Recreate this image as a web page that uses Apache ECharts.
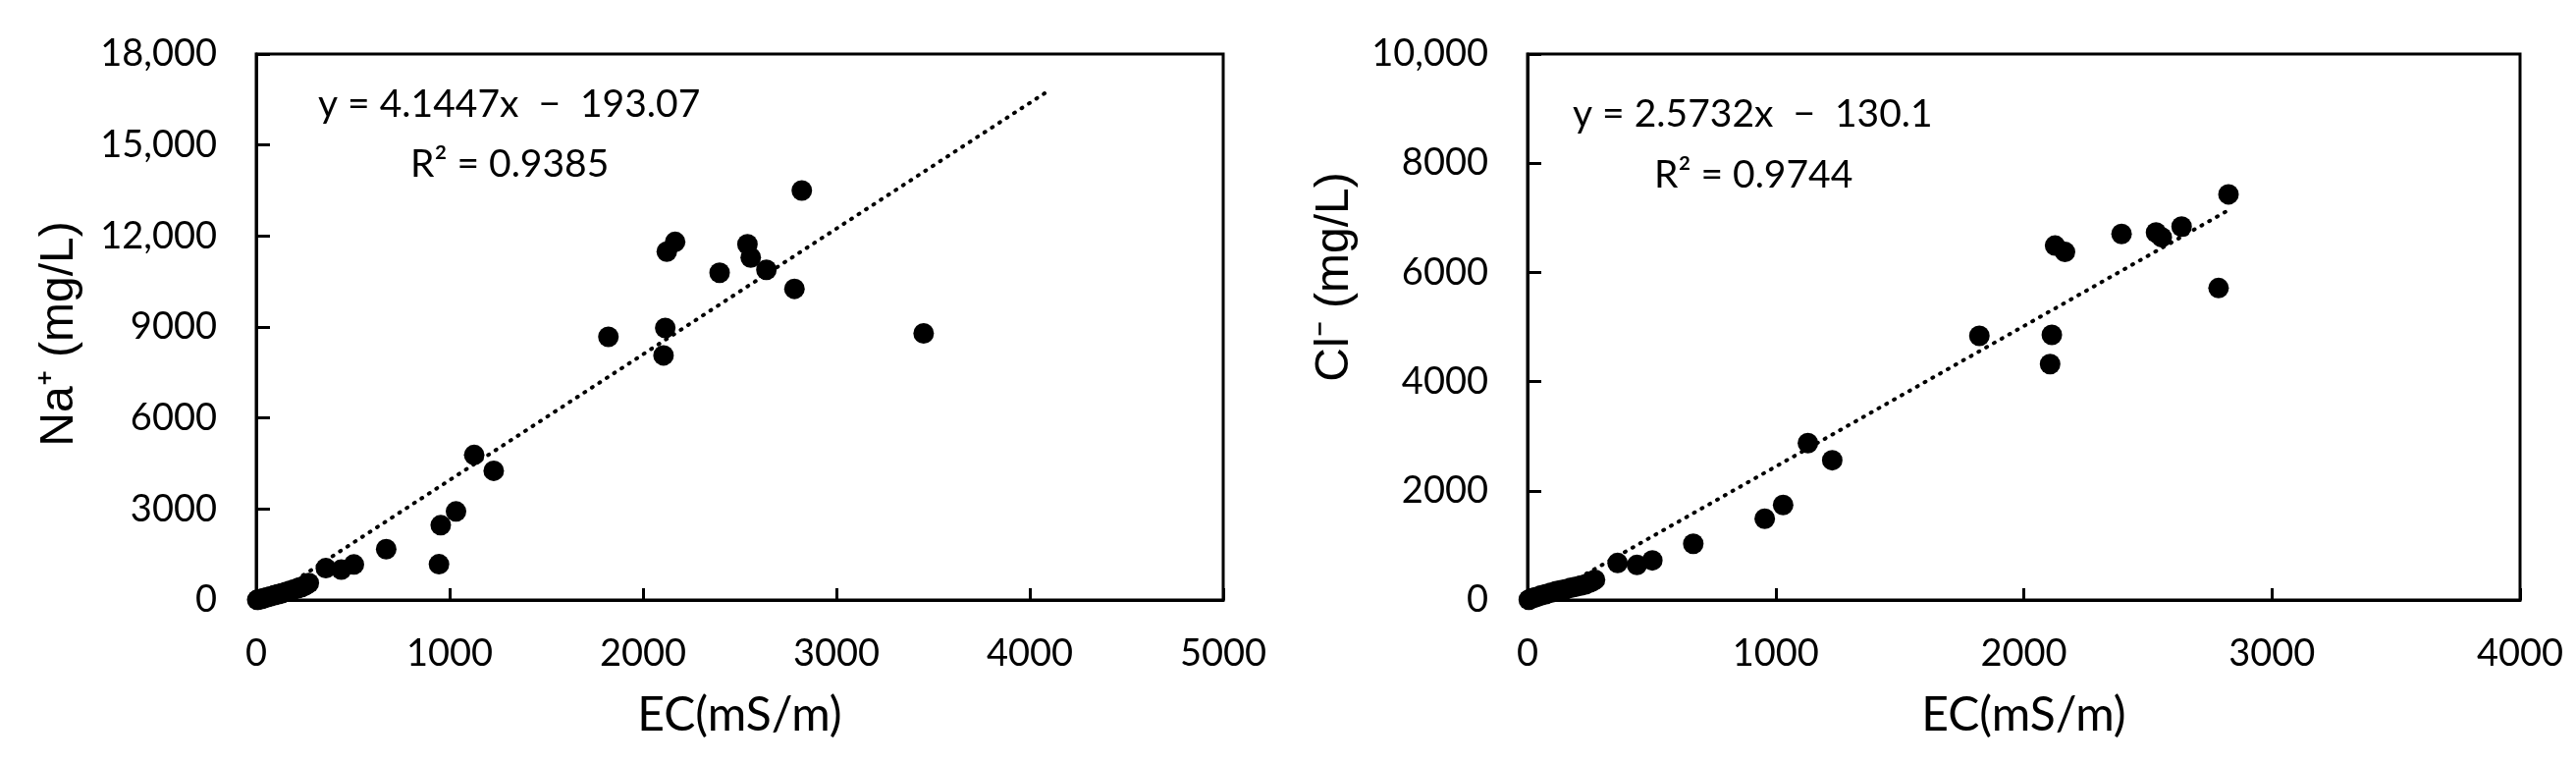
<!DOCTYPE html>
<html>
<head>
<meta charset="utf-8">
<title>EC vs Na+ / Cl-</title>
<script src="https://cdn.jsdelivr.net/npm/echarts@6/dist/echarts.min.js"></script>
<style>
  html, body { margin: 0; padding: 0; background: #fff; }
  #main { width: 2624px; height: 777px; }
</style>
</head>
<body>
<div id="main"></div>
<script>
// EC (mS/m) and Na+ (mg/L), left panel
const ecNa = [2821, 2166, 2123, 2540, 2557, 2396, 2638, 2783, 3451, 1821, 2115, 2106,
  1127, 1228, 1033, 954, 945, 672, 505, 440, 360,
  272, 262, 250, 235, 215, 195, 175, 155, 135, 115, 95, 75, 55, 40, 28, 18, 10, 5]
const naVals = [13500, 11806, 11484, 11726, 11290, 10790, 10887, 10258, 8790, 8677, 8968, 8065,
  4780, 4260, 2920, 2465, 1180, 1676, 1170, 1000, 1050,
  560, 520, 470, 430, 390, 350, 310, 270, 230, 195, 160, 125, 90, 60, 40, 25, 10, 5]

// EC (mS/m) and Cl- (mg/L), right panel
const ecCl = [2825, 2126, 2166, 2394, 2533, 2556, 2636, 2785, 1821, 2113, 2106,
  1130, 1228, 1030, 956, 668, 503, 441, 363,
  272, 262, 250, 235, 215, 195, 175, 155, 135, 115, 95, 75, 55, 40, 28, 18, 10, 5]
const clVals = [7429, 6491, 6375, 6705, 6732, 6643, 6839, 5714, 4839, 4857, 4321,
  2874, 2560, 1740, 1488, 1030, 725, 642, 677,
  370, 345, 320, 290, 265, 245, 225, 200, 180, 160, 135, 110, 85, 60, 45, 30, 15, 5]

// trendline end points
const trendNaX = [50, 4080]
const trendNaY = [15, 16720]
const trendClX = [51, 2830]
const trendClY = [1, 7152]

const eqNa = 'y = 4.1447x  \u2212  193.07'
const r2Na = 'R\u00b2 = 0.9385'
const eqCl = 'y = 2.5732x  \u2212  130.1'
const r2Cl = 'R\u00b2 = 0.9744'
const yNameNa = 'Na\u207a (mg/L)'
const yNameCl = 'Cl\u207b (mg/L)'

const zip = (xs, ys) => xs.map((x, i) => [x, ys[i]])

const tickFont = { color: '#000', fontFamily: 'Lato', fontSize: 38 }
// excel style: comma only from 10,000 up
const thousands = v => v >= 10000 ? v.toLocaleString('en-US') : String(v)

function xAxisCfg(idx, max) {
  return {
    type: 'value', gridIndex: idx, min: 0, max: max, interval: 1000,
    name: 'EC(mS/m)', nameLocation: 'middle', nameGap: 94,
    nameTextStyle: { color: '#000', fontFamily: 'Lato', fontSize: 48 },
    axisLine: { lineStyle: { color: '#000', width: 3 } },
    axisTick: { inside: true, length: 12, lineStyle: { color: '#000', width: 3 } },
    axisLabel: Object.assign({ margin: 36, formatter: v => String(v) }, tickFont),
    splitLine: { show: false }
  }
}
function yAxisCfg(idx, max, interval) {
  return {
    type: 'value', gridIndex: idx, min: 0, max: max, interval: interval,
    axisLine: { lineStyle: { color: '#000', width: 3 } },
    axisTick: { inside: true, length: 14, lineStyle: { color: '#000', width: 3 } },
    axisLabel: Object.assign({ margin: 40, formatter: thousands }, tickFont),
    splitLine: { show: false }
  }
}
function eqText(x, y, txt) {
  return {
    type: 'text', left: x, top: y,
    style: { text: txt, fill: '#000', font: '39px Lato', textVerticalAlign: 'middle' }
  }
}
// rotated y axis title
function yTitle(x, y, txt) {
  return {
    type: 'text', x: x, y: y, rotation: Math.PI / 2,
    style: { text: txt, fill: '#000', font: '48px "Liberation Sans"', align: 'center', verticalAlign: 'middle' }
  }
}

const chart = echarts.init(document.getElementById('main'))
chart.setOption({
  animation: false,
  backgroundColor: '#fff',
  grid: [
    { left: 261, top: 55, width: 985, height: 556, show: true, borderColor: '#000', borderWidth: 3 },
    { left: 1556, top: 55, width: 1011, height: 556, show: true, borderColor: '#000', borderWidth: 3 }
  ],
  xAxis: [xAxisCfg(0, 5000), xAxisCfg(1, 4000)],
  yAxis: [yAxisCfg(0, 18000, 3000), yAxisCfg(1, 10000, 2000)],
  series: [
    {
      type: 'line', xAxisIndex: 0, yAxisIndex: 0, data: zip(trendNaX, trendNaY),
      symbol: 'none', lineStyle: { color: '#000', width: 4, type: [1, 8], cap: 'round' }, z: 1
    },
    {
      type: 'scatter', xAxisIndex: 0, yAxisIndex: 0, data: zip(ecNa, naVals),
      symbolSize: 21, itemStyle: { color: '#000', opacity: 1 }, z: 2
    },
    {
      type: 'line', xAxisIndex: 1, yAxisIndex: 1, data: zip(trendClX, trendClY),
      symbol: 'none', lineStyle: { color: '#000', width: 4, type: [1, 8], cap: 'round' }, z: 1
    },
    {
      type: 'scatter', xAxisIndex: 1, yAxisIndex: 1, data: zip(ecCl, clVals),
      symbolSize: 21, itemStyle: { color: '#000', opacity: 1 }, z: 2
    }
  ],
  graphic: [
    eqText(324, 87, eqNa),
    eqText(418, 148, r2Na),
    eqText(1602, 97, eqCl),
    eqText(1685, 159, r2Cl),
    yTitle(61, 340, yNameNa),
    yTitle(1360, 282, yNameCl)
  ]
})
</script>
</body>
</html>
